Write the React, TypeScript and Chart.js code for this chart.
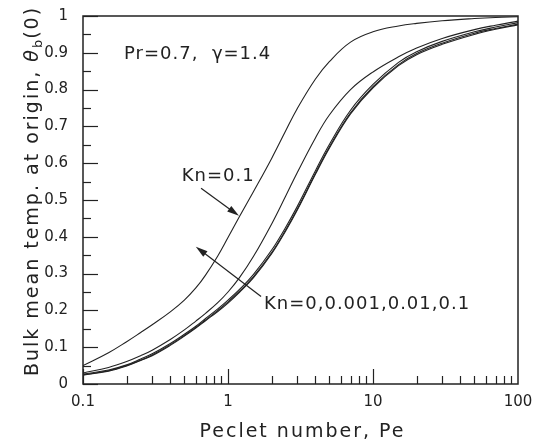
import React, { useEffect, useRef } from 'react';
import { Chart, registerables } from 'chart.js';

Chart.register(...registerables);

// Peclet number sample points (x)
const peclet = [0.1, 0.15, 0.2, 0.25, 0.3, 0.4, 0.5, 0.6, 0.7, 0.85, 1, 1.2, 1.5, 2, 2.5, 3, 4, 5, 7, 10, 15, 20, 30, 50, 70, 100];

// Bulk mean temperature at origin, theta_b(0)
const curveKn01Upper = [0.05, 0.085, 0.115, 0.14, 0.161, 0.196, 0.228, 0.261, 0.296, 0.348, 0.398, 0.455, 0.523, 0.613, 0.688, 0.748, 0.828, 0.876, 0.929, 0.957, 0.973, 0.98, 0.987, 0.993, 0.996, 0.998];
const curveKn01 = [0.03, 0.045, 0.061, 0.077, 0.092, 0.121, 0.147, 0.171, 0.192, 0.221, 0.25, 0.289, 0.347, 0.435, 0.511, 0.574, 0.668, 0.731, 0.8, 0.848, 0.889, 0.913, 0.939, 0.963, 0.975, 0.986];
const curveKn001 = [0.027, 0.038, 0.052, 0.068, 0.082, 0.11, 0.135, 0.157, 0.178, 0.204, 0.228, 0.257, 0.298, 0.364, 0.426, 0.482, 0.579, 0.651, 0.744, 0.814, 0.874, 0.903, 0.931, 0.957, 0.97, 0.982];
const curveKn0001 = [0.025, 0.036, 0.05, 0.065, 0.079, 0.107, 0.132, 0.154, 0.174, 0.2, 0.223, 0.252, 0.292, 0.357, 0.419, 0.475, 0.572, 0.644, 0.737, 0.808, 0.868, 0.898, 0.926, 0.953, 0.966, 0.978];
const curveKn0 = [0.024, 0.035, 0.049, 0.064, 0.077, 0.105, 0.13, 0.152, 0.172, 0.197, 0.22, 0.249, 0.289, 0.354, 0.416, 0.472, 0.569, 0.641, 0.734, 0.805, 0.865, 0.895, 0.923, 0.95, 0.964, 0.976];

const xTickLabels = ['0.1', '1', '10', '100'];
const yTickLabels = ['0', '0.1', '0.2', '0.3', '0.4', '0.5', '0.6', '0.7', '0.8', '0.9', '1'];

const xTitle = 'Peclet number, Pe';
const yTitleMain = 'Bulk mean temp. at origin, ';
const annotPr = 'Pr=0.7,  \u03b3=1.4';
const annotKnA = 'Kn=0.1';
const annotKnB = 'Kn=0,0.001,0.01,0.1';

const INK = '#222';
const FONT = '"DejaVu Sans", sans-serif';

function isDecade(v: number) {
  const l = Math.log10(v);
  return Math.abs(l - Math.round(l)) < 1e-6;
}

const decorPlugin = {
  id: 'decor',
  afterDraw(chart: any) {
    const ctx: CanvasRenderingContext2D = chart.ctx;
    const { left, right, top, bottom } = chart.chartArea;
    const xs = chart.scales.x;
    const ys = chart.scales.y;
    ctx.save();
    ctx.strokeStyle = INK;
    ctx.fillStyle = INK;

    // frame
    ctx.lineWidth = 1.5;
    ctx.strokeRect(left, top, right - left, bottom - top);

    // y ticks (inward)
    ctx.lineWidth = 1.2;
    for (let i = 0; i <= 20; i++) {
      const py = Math.round(ys.getPixelForValue(i * 0.05)) + 0.5;
      const len = i % 2 === 0 ? 15 : 8;
      ctx.beginPath();
      ctx.moveTo(left, py);
      ctx.lineTo(left + len, py);
      ctx.stroke();
    }
    // x ticks (inward, log minor)
    for (let e = -1; e < 2; e++) {
      for (let m = 1; m <= 9; m++) {
        const v = m * Math.pow(10, e);
        const px = Math.round(xs.getPixelForValue(v)) + 0.5;
        const len = m === 1 ? 15 : 8;
        ctx.beginPath();
        ctx.moveTo(px, bottom);
        ctx.lineTo(px, bottom - len);
        ctx.stroke();
      }
    }

    // x title
    ctx.font = '19px ' + FONT;
    (ctx as any).letterSpacing = '2px';
    ctx.textAlign = 'center';
    ctx.textBaseline = 'alphabetic';
    ctx.fillText(xTitle, (left + right) / 2 + 2, 437);

    // y title (rotated) with theta_b(0)
    ctx.save();
    ctx.translate(38, 191);
    ctx.rotate(-Math.PI / 2);
    ctx.textAlign = 'left';
    const mainFont = '19px ' + FONT;
    const italFont = 'italic 19px ' + FONT;
    const subFont = '13px ' + FONT;
    ctx.font = mainFont;
    const w1 = ctx.measureText(yTitleMain).width;
    ctx.font = italFont;
    const w2 = ctx.measureText('\u03b8').width;
    ctx.font = subFont;
    (ctx as any).letterSpacing = '1px';
    const w3 = ctx.measureText('b').width;
    ctx.font = mainFont;
    (ctx as any).letterSpacing = '2px';
    const w4 = ctx.measureText('(0)').width;
    const total = w1 + w2 + w3 + w4;
    let cx = -total / 2;
    ctx.font = mainFont;
    ctx.fillText(yTitleMain, cx, 0);
    cx += w1;
    ctx.font = italFont;
    ctx.fillText('\u03b8', cx, 0);
    cx += w2;
    ctx.font = subFont;
    (ctx as any).letterSpacing = '1px';
    ctx.fillText('b', cx, 4);
    cx += w3;
    ctx.font = mainFont;
    (ctx as any).letterSpacing = '2px';
    ctx.fillText('(0)', cx, 0);
    ctx.restore();

    // annotations
    ctx.font = '18px ' + FONT;
    (ctx as any).letterSpacing = '1px';
    ctx.textAlign = 'left';
    ctx.textBaseline = 'middle';
    const P = (pe: number, v: number) => [xs.getPixelForValue(pe), ys.getPixelForValue(v)];
    let [tx, ty] = P(0.192, 0.896);
    ctx.fillText(annotPr, tx, ty);
    [tx, ty] = P(0.48, 0.565);
    ctx.fillText(annotKnA, tx, ty);
    [tx, ty] = P(1.77, 0.2176);
    ctx.fillText(annotKnB, tx, ty);

    const arrow = (a: number[], b: number[]) => {
      const [x1, y1] = a;
      const [x2, y2] = b;
      const ang = Math.atan2(y2 - y1, x2 - x1);
      const hl = 12, hw = 3.5;
      ctx.lineWidth = 1.2;
      ctx.beginPath();
      ctx.moveTo(x1, y1);
      ctx.lineTo(x2 - Math.cos(ang) * hl * 0.8, y2 - Math.sin(ang) * hl * 0.8);
      ctx.stroke();
      ctx.beginPath();
      ctx.moveTo(x2, y2);
      ctx.lineTo(x2 - Math.cos(ang) * hl - Math.sin(ang) * hw, y2 - Math.sin(ang) * hl + Math.cos(ang) * hw);
      ctx.lineTo(x2 - Math.cos(ang) * hl + Math.sin(ang) * hw, y2 - Math.sin(ang) * hl - Math.cos(ang) * hw);
      ctx.closePath();
      ctx.fill();
    };
    arrow(P(0.652, 0.532), P(1.19, 0.457));
    arrow(P(1.69, 0.238), P(0.6, 0.373));

    ctx.restore();
  },
};

export default function App() {
  const ref = useRef<HTMLCanvasElement | null>(null);
  useEffect(() => {
    if (!ref.current) return;
    const mk = (arr: number[]) => peclet.map((p, i) => ({ x: p, y: arr[i] }));
    const series = [curveKn01Upper, curveKn01, curveKn001, curveKn0001, curveKn0];
    const chart = new Chart(ref.current, {
      type: 'line',
      data: {
        datasets: series.map((s, i) => ({
          label: 'c' + i,
          data: mk(s),
          borderColor: INK,
          borderWidth: 1.1,
          pointRadius: 0,
          fill: false,
          tension: 0.4,
        })),
      },
      options: {
        responsive: false,
        animation: false,
        devicePixelRatio: 1,
        layout: { padding: { top: 14, right: 24, left: 0, bottom: 0 } },
        plugins: { legend: { display: false }, tooltip: { enabled: false }, title: { display: false } },
        scales: {
          x: {
            type: 'logarithmic',
            min: 0.1,
            max: 100,
            grid: { display: false },
            border: { display: false },
            ticks: {
              autoSkip: false,
              maxRotation: 0,
              padding: 1,
              color: INK,
              font: { family: FONT, size: 15 },
              callback: (v: any) => {
                const n = Number(v);
                if (!isDecade(n)) return '';
                const idx = Math.round(Math.log10(n)) + 1;
                return xTickLabels[idx] ?? '';
              },
            },
            afterFit: (s: any) => { s.height = 59; },
          },
          y: {
            min: 0,
            max: 1,
            grid: { display: false },
            border: { display: false },
            ticks: {
              stepSize: 0.05,
              autoSkip: false,
              padding: 7,
              color: INK,
              font: { family: FONT, size: 15 },
              callback: (v: any) => {
                const r = Math.round(Number(v) * 100);
                if (r % 10 !== 0) return '';
                return yTickLabels[r / 10] ?? '';
              },
            },
            afterFit: (s: any) => { s.width = 83; },
          },
        },
      } as any,
      plugins: [decorPlugin],
    });
    return () => chart.destroy();
  }, []);
  return (
    <div style={{ position: 'fixed', left: 0, top: 0, width: 542, height: 443, background: '#fff' }}>
      <canvas ref={ref} width={542} height={443} style={{ width: 542, height: 443 }} />
    </div>
  );
}
